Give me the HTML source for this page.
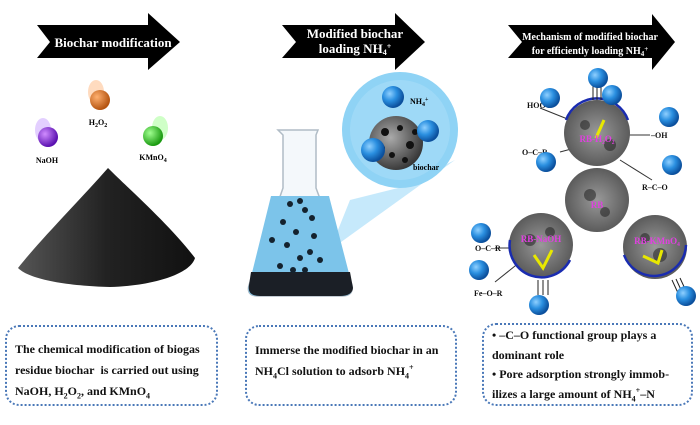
<!DOCTYPE html>
<html><head><meta charset="utf-8"><style>
html,body{margin:0;padding:0;background:#fff;}
svg{display:block;}
text{font-family:"Liberation Serif",serif;font-weight:bold;}
.box{position:absolute;border:2px dotted #4a78b8;border-radius:14px;box-sizing:border-box;font-family:"Liberation Serif",serif;font-weight:bold;font-size:12px;line-height:21px;color:#111;white-space:nowrap;}
sub,sup{line-height:0;font-size:8px;}
</style></head><body>
<div style="position:relative;width:700px;height:425px;overflow:hidden;">
<svg width="700" height="425" viewBox="0 0 700 425">
<defs>
<radialGradient id="bl" cx="35%" cy="35%" r="65%"><stop offset="0" stop-color="#8fd0ff"/><stop offset="0.5" stop-color="#2a8fe0"/><stop offset="1" stop-color="#0b4f9c"/></radialGradient>
<radialGradient id="pu" cx="35%" cy="35%" r="65%"><stop offset="0" stop-color="#d08cff"/><stop offset="1" stop-color="#5a10b0"/></radialGradient>
<radialGradient id="or" cx="35%" cy="35%" r="65%"><stop offset="0" stop-color="#ffb070"/><stop offset="1" stop-color="#b55410"/></radialGradient>
<radialGradient id="gr" cx="35%" cy="35%" r="65%"><stop offset="0" stop-color="#a0ff90"/><stop offset="1" stop-color="#1a9a10"/></radialGradient>
<radialGradient id="gy" cx="40%" cy="40%" r="65%"><stop offset="0" stop-color="#aaa"/><stop offset="1" stop-color="#333"/></radialGradient>
<radialGradient id="sem" cx="50%" cy="50%" r="55%"><stop offset="0" stop-color="#999"/><stop offset="1" stop-color="#555"/></radialGradient>
<linearGradient id="pile" x1="0" y1="0" x2="1" y2="0"><stop offset="0" stop-color="#555"/><stop offset="0.5" stop-color="#222"/><stop offset="1" stop-color="#111"/></linearGradient>
</defs>
<polygon points="37,25 148,25 148,13 180,42 148,70 148,58 37,58 50,42" fill="#000"/>
<text x="113" y="47" font-size="13" fill="#fff" text-anchor="middle">Biochar modification</text>
<polygon points="282,25 395,25 395,13 425,42 395,70 395,58 282,58 296,42" fill="#000"/>
<text x="355" y="38" font-size="13" fill="#fff" text-anchor="middle">Modified biochar</text>
<text x="355" y="53" font-size="13" fill="#fff" text-anchor="middle">loading NH<tspan font-size="8" dy="2">4</tspan><tspan font-size="8" dy="-6">+</tspan></text>
<polygon points="508,25 652,25 652,14 675,42 652,70 652,58 508,58 522,42" fill="#000"/>
<text x="590" y="40" font-size="10" fill="#fff" text-anchor="middle">Mechanism of modified biochar</text>
<text x="590" y="54" font-size="10" fill="#fff" text-anchor="middle">for efficiently loading NH<tspan font-size="7" dy="2">4</tspan><tspan font-size="7" dy="-5">+</tspan></text>
<ellipse cx="43" cy="130" rx="8" ry="12" fill="#c7a0ff" opacity="0.5"/>
<circle cx="48" cy="137" r="10" fill="url(#pu)"/>
<ellipse cx="96" cy="92" rx="8" ry="12" fill="#ffb880" opacity="0.5"/>
<circle cx="100" cy="100" r="10" fill="url(#or)"/>
<ellipse cx="160" cy="128" rx="8" ry="12" fill="#a0ff90" opacity="0.5"/>
<circle cx="153" cy="136" r="10" fill="url(#gr)"/>
<text x="47" y="163" font-size="8" text-anchor="middle">NaOH</text>
<text x="98" y="125" font-size="8" text-anchor="middle">H<tspan font-size="6" dy="2">2</tspan><tspan dy="-2">O</tspan><tspan font-size="6" dy="2">2</tspan></text>
<text x="153" y="160" font-size="8" text-anchor="middle">KMnO<tspan font-size="6" dy="2">4</tspan></text>
<path d="M108,168 C130,190 170,225 195,258 C190,275 150,286 110,287 C70,286 30,280 18,268 C40,240 80,200 108,168Z" fill="url(#pile)"/>
<polygon points="330,250 350,200 398,188 455,160" fill="#b8e4fa" opacity="0.8"/>
<circle cx="400" cy="130" r="58" fill="#8fd3f5"/>
<circle cx="400" cy="130" r="50" fill="#a8def8" opacity="0.6"/>
<circle cx="393" cy="97" r="11" fill="url(#bl)"/>
<circle cx="396" cy="143" r="27" fill="url(#gy)"/>
<g fill="#111"><circle cx="385" cy="132" r="4"/><circle cx="400" cy="128" r="3"/><circle cx="410" cy="145" r="4"/><circle cx="392" cy="155" r="3"/><circle cx="405" cy="160" r="3"/><circle cx="382" cy="148" r="3"/><circle cx="415" cy="132" r="3"/></g>
<circle cx="428" cy="131" r="11" fill="url(#bl)"/>
<circle cx="373" cy="150" r="12" fill="url(#bl)"/>
<text x="410" y="104" font-size="8">NH<tspan font-size="6" dy="2">4</tspan><tspan font-size="6" dy="-5">+</tspan></text>
<text x="413" y="170" font-size="8">biochar</text>
<path d="M278,130 L318,130 L316,135 L316,188 L352,285 Q354,296 342,296 L258,296 Q246,296 249,285 L283,188 L283,135Z" fill="#f4f8fb" stroke="#b0bcc6" stroke-width="1.5"/>
<path d="M271,196 L329,196 L352,285 Q354,296 342,296 L258,296 Q246,296 249,285Z" fill="#7cc4ea"/>
<path d="M251,272 L350,272 L353,288 Q352,296 340,296 L260,296 Q247,296 249,285Z" fill="#1b1f26"/>
<g fill="#14222e"><circle cx="290" cy="204" r="3"/><circle cx="300" cy="201" r="3"/><circle cx="305" cy="210" r="3"/><circle cx="283" cy="222" r="3"/><circle cx="312" cy="218" r="3"/><circle cx="287" cy="245" r="3"/><circle cx="296" cy="232" r="3"/><circle cx="314" cy="236" r="3"/><circle cx="320" cy="260" r="3"/><circle cx="280" cy="266" r="3"/><circle cx="300" cy="258" r="3"/><circle cx="310" cy="252" r="3"/><circle cx="293" cy="270" r="3"/><circle cx="272" cy="240" r="3"/><circle cx="305" cy="270" r="3"/></g>
<g stroke="#333" stroke-width="1">
<line x1="540" y1="108" x2="570" y2="120"/><line x1="628" y1="135" x2="650" y2="135"/>
<line x1="560" y1="152" x2="575" y2="148"/><line x1="620" y1="160" x2="652" y2="180"/>
<line x1="495" y1="248" x2="512" y2="248"/><line x1="495" y1="282" x2="520" y2="262"/>
</g>
<circle cx="597" cy="200" r="32" fill="url(#sem)"/>
<circle cx="597" cy="133" r="33" fill="url(#sem)"/>
<circle cx="541" cy="245" r="32" fill="url(#sem)"/>
<circle cx="655" cy="247" r="32" fill="url(#sem)"/>
<g fill="#222" opacity="0.55"><circle cx="585" cy="125" r="5"/><circle cx="610" cy="145" r="6"/><circle cx="590" cy="195" r="6"/><circle cx="605" cy="212" r="5"/><circle cx="530" cy="240" r="6"/><circle cx="550" cy="232" r="5"/><circle cx="660" cy="255" r="7"/><circle cx="645" cy="238" r="5"/></g>
<g fill="none" stroke="#1a2cb0" stroke-width="2.5">
<path d="M566,120 A33,33 0 0 1 628,120"/>
<path d="M510,240 A32,32 0 0 0 570,260"/>
<path d="M624,255 A32,32 0 0 0 686,245"/>
</g>
<g stroke="#e8e800" stroke-width="3" fill="none"><path d="M604,120 L596,138"/><path d="M534,255 L543,268 L552,250"/><path d="M643,256 L658,263 L662,250"/></g>
<g font-size="9" fill="#e040e0" text-anchor="middle"><text x="597" y="142">RB-H₂O₂</text><text x="597" y="208">RB</text><text x="541" y="242">RB-NaOH</text><text x="657" y="244">RB-KMnO₄</text></g>
<g font-size="8" fill="#111"><text x="527" y="108">HOOC</text><text x="651" y="138">–OH</text><text x="522" y="155">O–C–R</text><text x="642" y="190">R–C–O</text><text x="475" y="251">O–C–R</text><text x="474" y="296">Fe–O–R</text></g>
<g stroke="#222" stroke-width="1"><line x1="593" y1="86" x2="593" y2="100"/><line x1="597" y1="86" x2="597" y2="100"/><line x1="601" y1="86" x2="601" y2="100"/>
<line x1="538" y1="280" x2="538" y2="295"/><line x1="543" y1="280" x2="543" y2="295"/><line x1="548" y1="280" x2="548" y2="295"/>
<line x1="672" y1="280" x2="678" y2="293"/><line x1="676" y1="279" x2="682" y2="292"/><line x1="680" y1="278" x2="686" y2="291"/></g>
<g fill="url(#bl)"><circle cx="550" cy="98" r="10"/><circle cx="612" cy="95" r="10"/><circle cx="598" cy="78" r="10"/><circle cx="669" cy="117" r="10"/><circle cx="546" cy="162" r="10"/><circle cx="672" cy="165" r="10"/><circle cx="481" cy="233" r="10"/><circle cx="479" cy="270" r="10"/><circle cx="539" cy="305" r="10"/><circle cx="686" cy="296" r="10"/></g>
</svg>
<div class="box" style="left:5px;top:325px;width:213px;height:81px;padding:12px 0 0 8px;">The chemical modification of biogas<br>residue biochar&nbsp; is carried out using<br>NaOH, H<sub>2</sub>O<sub>2</sub>, and KMnO<sub>4</sub></div>
<div class="box" style="left:245px;top:325px;width:212px;height:81px;padding:13px 0 0 8px;">Immerse the modified biochar in an<br>NH<sub>4</sub>Cl solution to adsorb NH<sub>4</sub><sup>+</sup></div>
<div class="box" style="left:482px;top:323px;width:211px;height:83px;padding:1px 0 0 8px;line-height:19.5px;">• –C–O functional group plays a<br>dominant role<br>• Pore adsorption strongly immob-<br>ilizes a large amount of NH<sub>4</sub><sup>+</sup>–N</div>
</div>
</body></html>
